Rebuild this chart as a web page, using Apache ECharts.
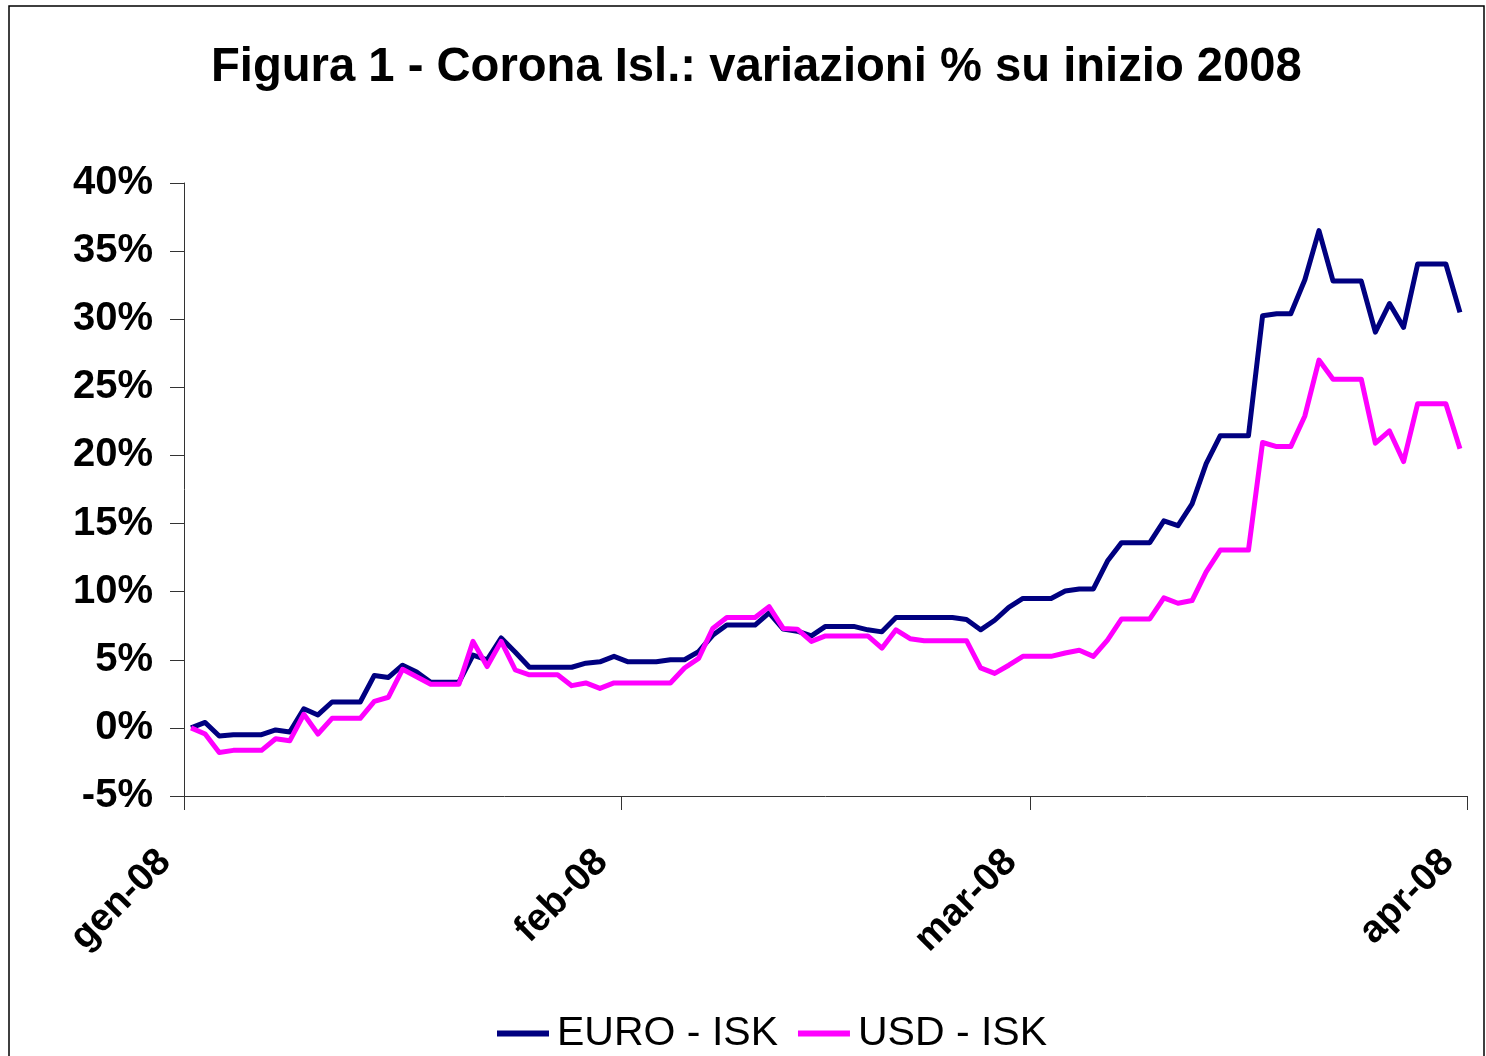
<!DOCTYPE html>
<html>
<head>
<meta charset="utf-8">
<script src="https://cdn.jsdelivr.net/npm/echarts@6/dist/echarts.min.js"></script>
<style>
html,body{margin:0;padding:0;background:#fff;}
#chart{width:1486px;height:1056px;}
</style>
</head>
<body>
<div id="chart"></div>
<script>
// Daily observations from 1 Jan 2008 (day 0) to 31 Mar 2008 (day 90), % change vs start of 2008
const euroIsk = [
  0, 0.4, -0.6, -0.5, -0.5, -0.5, -0.15, -0.3, 1.4, 0.95,
  1.9, 1.9, 1.9, 3.85, 3.7, 4.6, 4.1, 3.35, 3.35, 3.35,
  5.35, 5.0, 6.6, 5.55, 4.45, 4.45, 4.45, 4.45, 4.75, 4.85,
  5.25, 4.85, 4.85, 4.85, 5.0, 5.0, 5.6, 6.8, 7.55, 7.55,
  7.55, 8.45, 7.25, 7.1, 6.75, 7.45, 7.45, 7.45, 7.2, 7.05,
  8.1, 8.1, 8.1, 8.1, 8.1, 7.95, 7.2, 7.9, 8.85, 9.5,
  9.5, 9.5, 10.05, 10.2, 10.2, 12.25, 13.6, 13.6, 13.6, 15.2,
  14.85, 16.45, 19.4, 21.45, 21.45, 21.45, 30.25, 30.4, 30.4, 32.9,
  36.5, 32.8, 32.8, 32.8, 29.05, 31.15, 29.4, 34.05, 34.05, 34.05,
  30.5
];
const usdIsk = [
  0, -0.45, -1.8, -1.65, -1.65, -1.65, -0.8, -0.95, 1.0, -0.45,
  0.7, 0.7, 0.7, 1.95, 2.25, 4.3, 3.75, 3.2, 3.2, 3.2,
  6.35, 4.5, 6.35, 4.25, 3.9, 3.9, 3.9, 3.1, 3.3, 2.9,
  3.3, 3.3, 3.3, 3.3, 3.3, 4.4, 5.1, 7.3, 8.1, 8.1,
  8.1, 8.9, 7.3, 7.25, 6.35, 6.75, 6.75, 6.75, 6.75, 5.85,
  7.2, 6.55, 6.4, 6.4, 6.4, 6.4, 4.4, 4.0, 4.6, 5.25,
  5.25, 5.25, 5.5, 5.7, 5.25, 6.45, 8.0, 8.0, 8.0, 9.55,
  9.15, 9.35, 11.45, 13.05, 13.05, 13.05, 20.95, 20.65, 20.65, 22.9,
  27.0, 25.6, 25.6, 25.6, 20.9, 21.8, 19.55, 23.8, 23.8, 23.8,
  20.5
];
const monthTickDays = [0, 31, 60, 91];
const monthTickLabels = ['gen-08', 'feb-08', 'mar-08', 'apr-08'];
const yTicks = [-5, 0, 5, 10, 15, 20, 25, 30, 35, 40];
const seriesNames = ['EURO - ISK', 'USD - ISK'];

function toPoints(vals) {
  // each daily value is centred in its day slot on the date axis
  return vals.map((v, i) => [i + 0.5, v]);
}

const chart = echarts.init(document.getElementById('chart'), null, {renderer: 'canvas'});
const fontFam = '"Liberation Sans", Arial, sans-serif';
chart.setOption({
  animation: false,
  backgroundColor: '#fff',
  title: {
    text: 'Figura 1 - Corona Isl.: variazioni % su inizio 2008',
    left: 206,
    top: 39,
    textStyle: {fontFamily: fontFam, fontWeight: 'bold', fontSize: 47.2, color: '#000'}
  },
  legend: {
    data: seriesNames,
    top: 1008,
    left: 492,
    icon: 'rect',
    itemWidth: 52,
    itemHeight: 6,
    itemGap: 20,
    textStyle: {fontFamily: fontFam, fontSize: 41, color: '#000', padding: [0, 0, 0, 3]}
  },
  grid: {left: 184, top: 183, width: 1283, height: 613, containLabel: false},
  xAxis: {
    type: 'value',
    min: monthTickDays[0],
    max: monthTickDays[monthTickDays.length - 1],
    splitLine: {show: false},
    axisLine: {onZero: false, lineStyle: {color: '#333', width: 1}},
    axisTick: {show: true, customValues: monthTickDays, length: 14, lineStyle: {color: '#333'}},
    axisLabel: {
      customValues: monthTickDays,
      rotate: 45,
      margin: 41,
      padding: [0, 27, 0, 0],
      fontFamily: fontFam,
      fontWeight: 'bold',
      fontSize: 38.5,
      color: '#000',
      formatter: function (v) {
        const idx = monthTickDays.indexOf(Math.round(v));
        return idx >= 0 ? monthTickLabels[idx] : '';
      }
    }
  },
  yAxis: {
    type: 'value',
    min: yTicks[0],
    max: yTicks[yTicks.length - 1],
    interval: 5,
    splitLine: {show: false},
    axisLine: {show: true, lineStyle: {color: '#333', width: 1}},
    axisTick: {show: true, length: 14, lineStyle: {color: '#333'}},
    axisLabel: {
      margin: 31,
      padding: [6, 0, 0, 0],
      fontFamily: fontFam,
      fontWeight: 'bold',
      fontSize: 40,
      color: '#000',
      formatter: v => v + '%'
    }
  },
  graphic: [{
    type: 'rect',
    shape: {x: 9, y: 6, width: 1475, height: 1100},
    style: {fill: 'none', stroke: '#000', lineWidth: 1.5},
    silent: true
  }],
  series: [
    {
      name: seriesNames[0], type: 'line', data: toPoints(euroIsk),
      showSymbol: false, symbol: 'none',
      lineStyle: {color: '#000080', width: 5, join: 'round'},
      itemStyle: {color: '#000080'}
    },
    {
      name: seriesNames[1], type: 'line', data: toPoints(usdIsk),
      showSymbol: false, symbol: 'none',
      lineStyle: {color: '#FF00FF', width: 5, join: 'round'},
      itemStyle: {color: '#FF00FF'}
    }
  ]
});
</script>
</body>
</html>
